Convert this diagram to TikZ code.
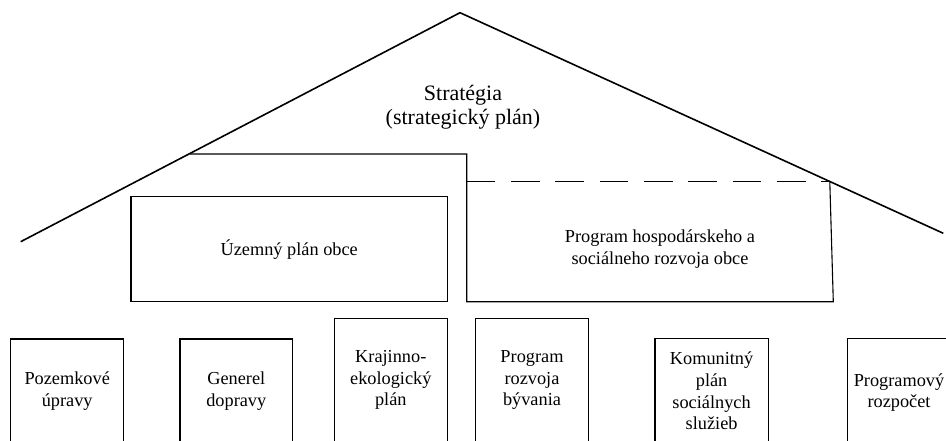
\documentclass[tikz,border=0pt]{standalone}
\usepackage{fontspec}
\setmainfont{Liberation Serif}
\begin{document}
\begin{tikzpicture}[x=1pt,y=-1pt,
  roof/.style={line width=1.6pt, line join=miter},
  frame/.style={line width=1.1pt},
  dashline/.style={line width=1.1pt, dash pattern=on 28.7pt off 15.6pt},
  lbl/.style={align=center, inner sep=0pt, font=\fontsize{18.3}{21.7}\selectfont},
  big/.style={align=center, inner sep=0pt, font=\fontsize{22}{24.5}\selectfont}]
\useasboundingbox (0,0) rectangle (946,441);
\clip (0,0) rectangle (946,441);
% roof
\coordinate (roofL) at (20.7,241.7);
\coordinate (apex) at (460,12.7);
\coordinate (roofR) at (943.3,233.3);
\draw[roof] (roofL) -- (apex) -- (roofR);
\node[big] (strat) at (463,107) {Stratégia\\(strategický plán)};
% upper frame and right box
\coordinate (fA) at (189.5,154);
\coordinate (fB) at (466.7,154);
\coordinate (fC) at (466.7,301.7);
\coordinate (fD) at (833.3,301.7);
\coordinate (fE) at (829.8,181.7);
\coordinate (dS) at (466.7,181.7);
\draw[frame] (fA) -- (fB) -- (fC) -- (fD) -- (fE);
\draw[dashline] (dS) -- (fE);
% territorial plan
\draw[frame] (131,196.7) rectangle (447.3,301.7);
\node[lbl] (uzemny) at (289.2,249.3) {Územný plán obce};
\node[lbl] (program) at (660,249) {Program hospodárskeho a\\sociálneho rozvoja obce};
% bottom boxes
\draw[frame] (10.7,339) rectangle (123.7,470);
\draw[frame] (180,339) rectangle (292.7,470);
\draw[frame] (334.3,318.3) rectangle (447.3,470);
\draw[frame] (475.7,318.3) rectangle (588.3,470);
\draw[frame] (655,338.5) rectangle (768.3,470);
\draw[frame] (847.3,338.5) rectangle (960.5,470);
\node[lbl] (t1) at (67.2,391) {Pozemkové\\úpravy};
\node[lbl] (t2) at (236.3,391) {Generel\\dopravy};
\node[lbl] (t3) at (390.8,380) {Krajinno-\\ekologický\\plán};
\node[lbl] (t4) at (532,380) {Program\\rozvoja\\bývania};
\node[lbl] (t5) at (711.6,391) {Komunitný\\plán\\sociálnych\\služieb};
\node[lbl] (t6) at (899,392.5) {Programový\\rozpočet};
\end{tikzpicture}
\end{document}
